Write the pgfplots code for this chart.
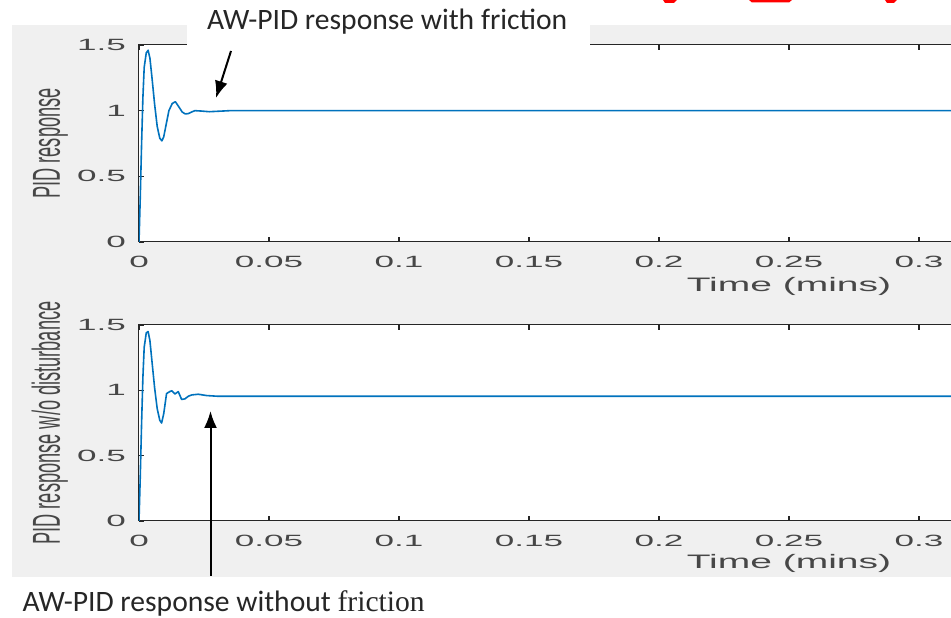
\documentclass[border=0pt]{standalone}
\usepackage{fontspec}
\usepackage{pgfplots}
\pgfplotsset{compat=1.18}
\usetikzlibrary{arrows.meta}
\setmainfont{Liberation Sans}
\newfontfamily\tickfont[FakeStretch=2.15]{Liberation Sans}
\newfontfamily\xlabfont[FakeStretch=2.0]{Liberation Sans}
\newfontfamily\ylabfont[FakeStretch=0.467]{Liberation Sans}
\newfontfamily\annfont{Carlito}
\newfontfamily\serfont{Liberation Serif}
\definecolor{mblue}{RGB}{0,114,189}
\definecolor{mgray}{RGB}{240,240,240}
\definecolor{axc}{RGB}{38,38,38}
\pgfplotsset{mystyle/.style={
  scale only axis, width=1300pt, xmin=0, xmax=0.5, ymin=0, ymax=1.5,
  xtick={0,0.05,0.1,0.15,0.2,0.25,0.3},
  xticklabels={0,0.05,0.1,0.15,0.2,0.25,0.3},
  ytick={0,0.5,1,1.5}, yticklabels={0,0.5,1,1.5},
  axis background/.style={fill=white},
  axis line style={axc, line width=1pt},
  major tick length=5pt,
  every tick/.style={axc, line width=1.2pt},
  tick label style={font=\tickfont\fontsize{16.3}{16.3}\selectfont, text=axc!85},
  xticklabel style={anchor=north, inner sep=0pt, yshift=-14pt},
  yticklabel style={anchor=east, inner sep=0pt, xshift=-13pt},
  xlabel style={at={(axis description cs:0.5,0)}, anchor=base, inner sep=0pt, font=\xlabfont\fontsize{19.5}{19.5}\selectfont, text=axc!85},
  ylabel style={at={(axis description cs:-0.06077,0.5)}, anchor=base, inner sep=0pt, font=\ylabfont\fontsize{39}{39}\selectfont, text=axc!85},
  xlabel={Time (mins)},
}}
\begin{document}
\begin{tikzpicture}[x=1pt,y=1pt]
\useasboundingbox (0,0) rectangle (951,618);
\clip (0,0) rectangle (951,618);
\fill[mgray] (12,41) rectangle (951,593);
\begin{axis}[mystyle, at={(139pt,376pt)}, anchor=south west, height=197pt,
  ylabel={PID response}, xlabel style={yshift=-49.5pt}]
\addplot[mblue, line width=1.6pt, line join=round] table {
0 0
0.0005 0.35
0.001 0.75
0.0015 1.1
0.002 1.33
0.0028 1.44
0.0035 1.46
0.0042 1.40
0.005 1.25
0.006 1.05
0.007 0.88
0.008 0.79
0.0088 0.77
0.0095 0.80
0.0105 0.90
0.0115 1.00
0.0128 1.055
0.0140 1.068
0.0153 1.03
0.0166 0.99
0.0178 0.975
0.019 0.978
0.0205 0.992
0.0215 1.0
0.024 0.997
0.027 0.992
0.030 0.995
0.035 1.0
0.05 1.0
0.5 1.0
};
\end{axis}
\begin{axis}[mystyle, at={(139pt,97pt)}, anchor=south west, height=196pt,
  ylabel={PID response w/o disturbance}, xlabel style={yshift=-47.5pt}]
\addplot[mblue, line width=1.6pt, line join=round] table {
0 0
0.0005 0.35
0.001 0.75
0.0015 1.1
0.002 1.33
0.0028 1.44
0.0035 1.45
0.0042 1.38
0.005 1.22
0.006 1.02
0.007 0.86
0.008 0.77
0.0087 0.75
0.0095 0.82
0.0106 0.975
0.0118 0.99
0.0126 0.997
0.0138 0.972
0.0151 0.99
0.0164 0.93
0.0177 0.935
0.019 0.955
0.0203 0.965
0.0228 0.97
0.026 0.96
0.030 0.955
0.05 0.955
0.5 0.955
};
\end{axis}
\fill[white] (187,567) rectangle (590,618);
\node[anchor=base west, inner sep=0pt, font=\annfont\fontsize{29.6}{30}\selectfont, text=black!85] at (207,588) {AW-PID response with friction};
\node[anchor=base west, inner sep=0pt, font=\annfont\fontsize{29.6}{30}\selectfont, text=black!85] at (22.5,6.3) {AW-PID response without {\serfont friction}};
\draw[line width=2pt, -{Latex[length=17pt,width=13pt]}] (231,567) -- (216,520);
\draw[line width=2pt, -{Latex[length=17pt,width=13pt]}] (210.5,42) -- (210.5,207);
\fill[red] (663,618) -- (677,618) -- (674,615) -- (665,615) -- cycle;
\fill[red] (749,618) -- (792,618) -- (789,615.5) -- (752,615.5) -- cycle;
\fill[red] (885,618) -- (897,618) -- (894,615) -- (887,615) -- cycle;
\end{tikzpicture}
\end{document}
